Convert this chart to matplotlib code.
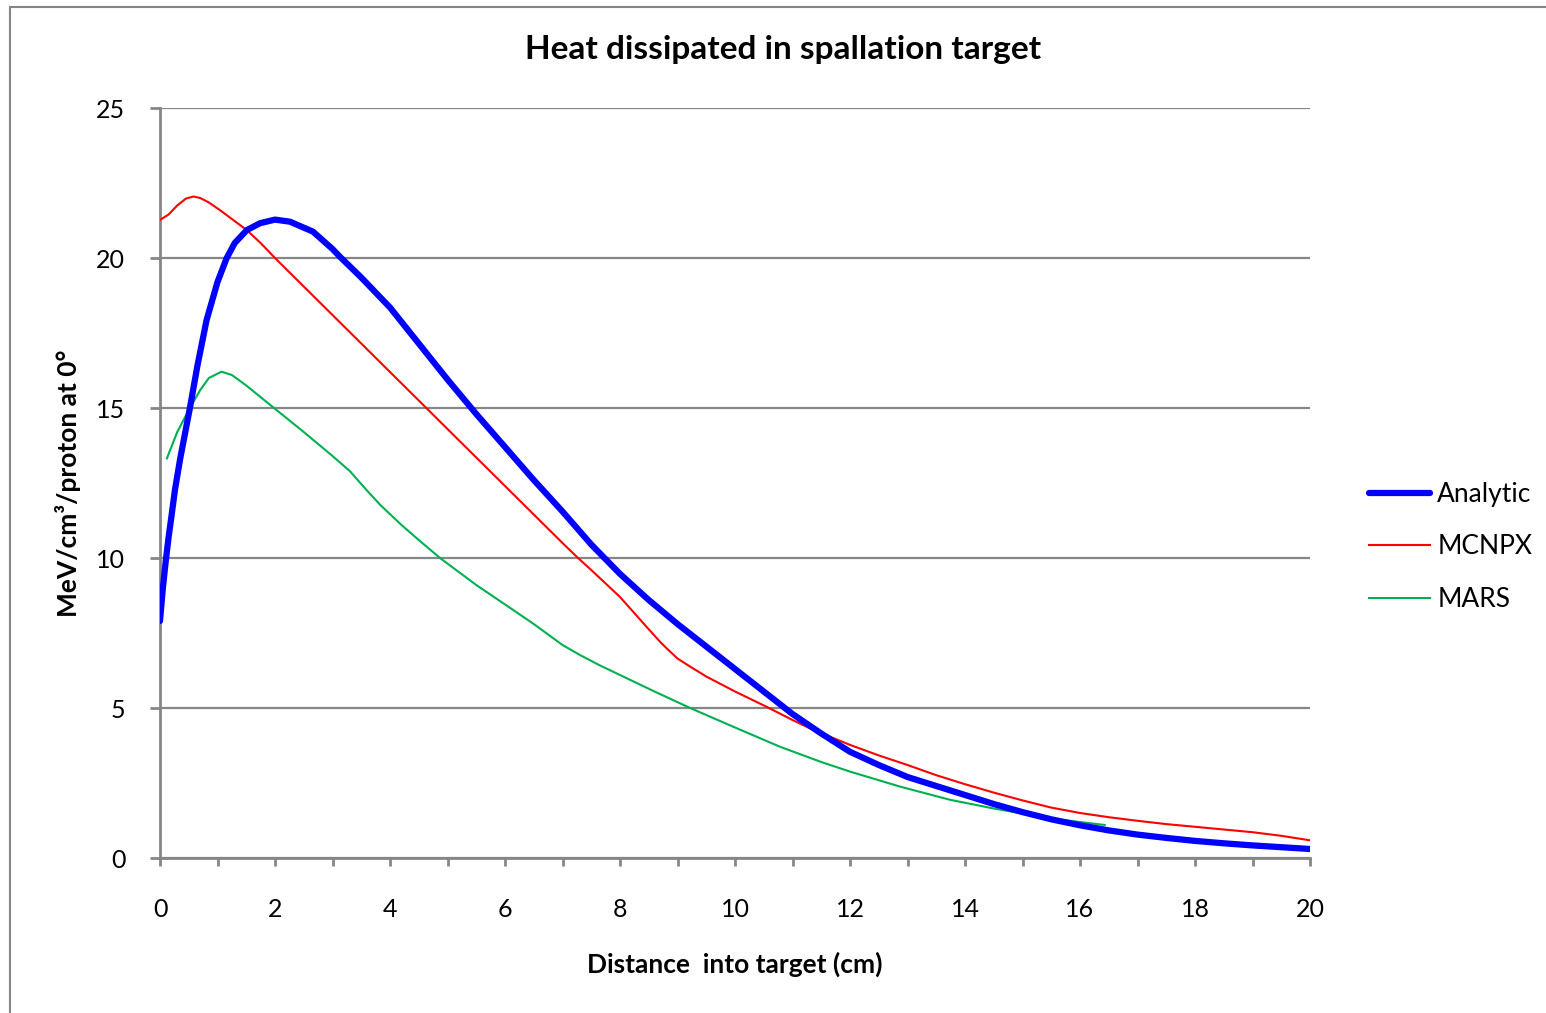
import matplotlib
matplotlib.use("Agg")
import matplotlib.pyplot as plt
from matplotlib.patches import Rectangle
from matplotlib.ticker import MultipleLocator

plt.rcParams['font.family'] = ['Lato', 'DejaVu Sans']

# values
analytic_x = [0, 0.05, 0.1, 0.15, 0.2, 0.26, 0.35, 0.52, 0.65, 0.81, 1.0, 1.16, 1.3, 1.51,
              1.74, 2.0, 2.26, 2.66, 3.0, 3.13, 3.5, 4.0, 4.5, 5.0, 5.5, 6.0, 6.5, 7.0,
              7.5, 8.0, 8.5, 9.0, 9.5, 10.0, 10.5, 11.0, 11.5, 12.0, 12.5, 13.0, 13.5,
              14.0, 14.5, 15.0, 15.5, 16.0, 16.5, 17.0, 17.5, 18.0, 18.5, 19.0, 19.5, 20.0]
analytic_y = [7.9, 9.0, 9.9, 10.7, 11.4, 12.27, 13.3, 15.0, 16.4, 17.93, 19.2, 20.0, 20.5,
              20.93, 21.16, 21.28, 21.21, 20.88, 20.3, 20.04, 19.35, 18.35, 17.15, 15.95,
              14.8, 13.7, 12.6, 11.55, 10.45, 9.47, 8.6, 7.8, 7.05, 6.3, 5.55, 4.8, 4.15,
              3.54, 3.1, 2.7, 2.4, 2.1, 1.8, 1.53, 1.29, 1.09, 0.92, 0.78, 0.67, 0.57,
              0.49, 0.42, 0.36, 0.3]

mcnpx_x = [0, 0.15, 0.3, 0.45, 0.58, 0.7, 0.85, 1.04, 1.25, 1.51, 1.75, 2.0, 3.0, 4.0,
           5.0, 6.0, 7.0, 7.27, 7.5, 7.75, 8.0, 8.2, 8.46, 8.7, 8.81, 9.0, 9.22, 9.5,
           9.75, 10.0, 10.55, 11.0, 11.36, 12.0, 12.5, 13.0, 13.5, 14.0, 14.5, 15.0,
           15.5, 16.0, 16.5, 17.0, 17.5, 18.0, 18.5, 19.0, 19.5, 20.0]
mcnpx_y = [21.27, 21.45, 21.75, 21.98, 22.05, 22.0, 21.85, 21.6, 21.3, 20.93, 20.5, 20.0,
           18.1, 16.2, 14.3, 12.4, 10.5, 10.0, 9.6, 9.15, 8.7, 8.27, 7.71, 7.2, 6.99,
           6.65, 6.38, 6.05, 5.8, 5.55, 5.04, 4.6, 4.27, 3.77, 3.42, 3.1, 2.76, 2.46,
           2.18, 1.92, 1.68, 1.5, 1.36, 1.24, 1.13, 1.04, 0.95, 0.86, 0.74, 0.59]

mars_x = [0.12, 0.3, 0.52, 0.7, 0.85, 1.07, 1.25, 1.5, 1.97, 2.5, 3.0, 3.3, 3.59, 3.83,
          4.2, 4.5, 4.87, 5.5, 6.14, 6.5, 7.0, 7.3, 7.65, 8.0, 8.6, 9.22, 10.0, 10.78,
          11.5, 12.0, 12.87, 13.74, 14.5, 15.48, 16.0, 16.43]
mars_y = [13.32, 14.2, 15.0, 15.6, 16.0, 16.21, 16.1, 15.75, 15.02, 14.2, 13.4, 12.9,
          12.27, 11.77, 11.1, 10.6, 10.0, 9.1, 8.27, 7.8, 7.1, 6.77, 6.42, 6.1, 5.55,
          5.0, 4.35, 3.71, 3.2, 2.88, 2.38, 1.94, 1.65, 1.32, 1.2, 1.1]

grey = '#868686'

fig = plt.figure(figsize=(15.46, 10.13), dpi=100)
ax = fig.add_axes([160 / 1546, 1 - 858 / 1013, 1150 / 1546, 750 / 1013])

# outer chart border like the spreadsheet frame
fig.patches.append(Rectangle((10 / 1546, -0.01), 1.0, 1 - 7 / 1013 + 0.01,
                             transform=fig.transFigure, fill=False,
                             edgecolor=grey, linewidth=1.5, clip_on=False))

ax.plot(analytic_x, analytic_y, color='#0000ff', lw=4.5, label='Analytic',
        solid_capstyle='round', solid_joinstyle='round', zorder=4)
ax.plot(mcnpx_x, mcnpx_y, color='#ff0000', lw=1.5, label='MCNPX',
        solid_joinstyle='round', zorder=3)
ax.plot(mars_x, mars_y, color='#00b050', lw=1.5, label='MARS',
        solid_joinstyle='round', zorder=3)

ax.set_xlim(0, 20)
ax.set_ylim(0, 25)
ax.xaxis.set_major_locator(MultipleLocator(2))
ax.xaxis.set_minor_locator(MultipleLocator(1))
ax.yaxis.set_major_locator(MultipleLocator(5))
ax.grid(axis='y', color=grey, lw=1.6)
ax.set_axisbelow(True)

for s in ['top', 'right']:
    ax.spines[s].set_visible(False)
for s in ['left', 'bottom']:
    ax.spines[s].set_color(grey)
    ax.spines[s].set_linewidth(2)

ax.tick_params(axis='x', which='major', length=6, width=2, color=grey,
               labelsize=18, pad=23)
ax.tick_params(axis='x', which='minor', length=6, width=2, color=grey)
ax.tick_params(axis='y', length=7, width=2, color=grey, labelsize=18, pad=18)

ax.set_xlabel('Distance  into target (cm)', fontsize=19, fontweight='bold', labelpad=22)
ax.set_ylabel('MeV/cm³/proton at 0°', fontsize=19, fontweight='bold', labelpad=11)
fig.text(783 / 1546, 1 - 50 / 1013, 'Heat dissipated in spallation target',
         fontsize=24, fontweight='bold', ha='center', va='center')

fig.legend(loc='center left', bbox_to_anchor=(1356 / 1546, 1 - 547 / 1013),
           frameon=False, fontsize=19, handlelength=2.3, handletextpad=0.28,
           labelspacing=1.05, borderpad=0)

fig.savefig('out.png', dpi=100)
